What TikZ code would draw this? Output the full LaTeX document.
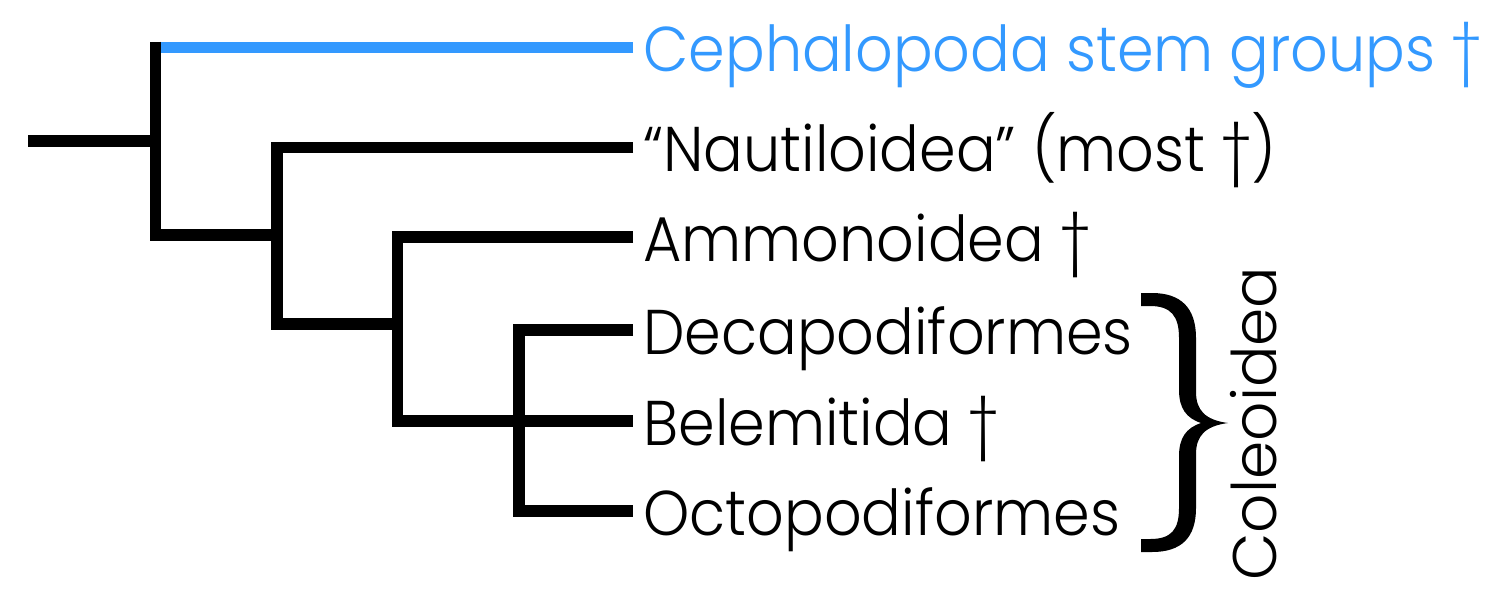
\documentclass[tikz,border=0pt]{standalone}
\usepackage{graphicx}
\usepackage{fontspec}
\setmainfont{Poppins Light}
\definecolor{stemblue}{RGB}{51,153,255}
\newcommand{\hsq}[1]{\scalebox{0.93}[1]{#1}}
\tikzset{
  branch/.style={line width=0.234cm, line cap=butt, line join=miter},
  lab/.style={anchor=base west, inner sep=0pt, font=\fontsize{36}{40}\selectfont},
}
\begin{document}
\begin{tikzpicture}[x=0.02cm, y=-0.02cm]
\useasboundingbox (0,0) rectangle (1500,596);
% tips and branch points
\coordinate (root) at (28,141);
\coordinate (nA) at (155.5,141);
\coordinate (t1) at (633,47.5);
\coordinate (t2) at (633,147.5);
\coordinate (t3) at (633,237);
\coordinate (t4) at (633,330);
\coordinate (t5) at (633,421);
\coordinate (t6) at (633,511);
\coordinate (nB) at (276.7,235);
\coordinate (nC) at (397.5,324);
\coordinate (nD) at (518.7,421);
% labels
\node[lab, text=stemblue] (L1) at (643,71.5) {\hsq{Cephalopoda stem groups †}};
\node[lab] (L2) at (643,171.5) {\hsq{“Nautiloidea” (most †)}};
\node[lab] (L3) at (643,261) {\hsq{Ammonoidea †}};
\node[lab] (L4) at (643,354) {\hsq{Decapodiformes}};
\node[lab] (L5) at (643,445) {\hsq{Belemitida †}};
\node[lab] (L6) at (643,535) {\hsq{Octopodiformes}};
\node[lab, rotate=90, font=\fontsize{35}{39}\selectfont] (Col) at (1276,581) {Coleoidea};
% tree
\draw[branch] (root) -- (nA);
\draw[branch, stemblue] (t1) -- (161.35,47.5);
\draw[branch] (155.5,41.65) -- (nA) |- (nB);
\draw[branch] (t2) -| (nB) |- (nC);
\draw[branch] (t3) -| (nC) |- (nD) -- (t5);
\draw[branch] (t4) -| (nD) |- (t6);
% brace
\fill (1141,293) -- (1152,293)
  .. controls (1181,293) and (1196,308) .. (1196,338)
  -- (1196,392)
  .. controls (1196,410) and (1205,420) .. (1228,423)
  .. controls (1205,426) and (1196,436) .. (1196,454)
  -- (1196,508)
  .. controls (1196,538) and (1181,552) .. (1152,552)
  -- (1141,552) -- (1141,539) -- (1150,539)
  .. controls (1171,539) and (1179,530) .. (1179,508)
  -- (1179,456)
  .. controls (1179,438) and (1186,428) .. (1201,423)
  .. controls (1186,418) and (1179,408) .. (1179,390)
  -- (1179,338)
  .. controls (1179,316) and (1171,306) .. (1150,306)
  -- (1141,306) -- cycle;
\end{tikzpicture}
\end{document}
